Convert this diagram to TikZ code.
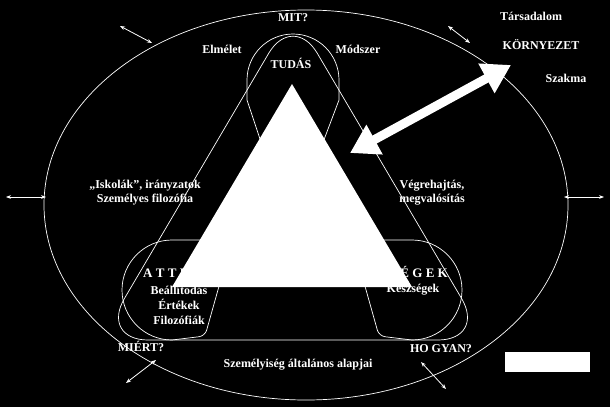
\documentclass[tikz,border=0pt]{standalone}
\usepackage{fontspec}
\setmainfont{Liberation Serif}
\usetikzlibrary{arrows.meta}
\tikzset{
  lbl/.style={text=white,font=\bfseries\fontsize{12}{14}\selectfont,align=center,inner sep=0pt},
  outline/.style={draw=white,line width=0.7pt},
  smallarrow/.style={white,line width=0.8pt,{Stealth[length=5pt]}-{Stealth[length=5pt]}}
}
\begin{document}
\begin{tikzpicture}[x=1pt,y=-1pt]
\fill[black] (0,0) rectangle (610,407);
\useasboundingbox (0,0) rectangle (610,407);
%outer ellipse
\draw[outline] (306,205) ellipse (262 and 195);
%big rounded triangle
\draw[outline,rounded corners=48pt] (293,12) -- (100,340) -- (486,340) -- cycle;
%corner capsules
\draw[outline] (247,100) -- (247,80) arc (180:360:46) -- (339,100) -- (322,145) -- (262,145) -- cycle;
\draw[outline,rounded corners=6pt] (232,240) -- (205,336) -- (172,340);
\draw[outline] (232,240) -- (172,240) arc (270:90:50);
\draw[outline,rounded corners=6pt] (352,240) -- (379,336) -- (412,340);
\draw[outline] (352,240) -- (412,240) arc (-90:90:50);
%texts
\node[lbl] (mit) at (293,18) {MIT?};
\node[lbl] (tars) at (531,16) {Társadalom};
\node[lbl] (korny) at (541,45) {KÖRNYEZET};
\node[lbl] (szak) at (566,78) {Szakma};
\node[lbl] (elm) at (222,49) {Elmélet};
\node[lbl] (mod) at (358,49) {Módszer};
\node[lbl] (tudas) at (291,63) {TUDÁS};
\node[lbl] (isk) at (145,193) {„Iskolák”, irányzatok\\Személyes  filozófia};
\node[lbl] (vegre) at (432,193) {Végrehajtás,\\megvalósítás};
\node[lbl,anchor=west] (att) at (143,272) {\fontsize{13}{14}\selectfont A T T I T Ű D Ö K};
\node[lbl,font=\bfseries\fontsize{12}{15}\selectfont] (beall) at (179,305) {Beállítodás\\Értékek\\Filozófiák};
\node[lbl,anchor=east] (kesz) at (448,272) {\fontsize{13}{14}\selectfont K É S Z S É G E K};
\node[lbl] (keszs) at (413,290) {Készségek};
\node[lbl] (miert) at (141,346) {MIÉRT?};
\node[lbl] (hogyan) at (441,349) {HO GYAN?};
\node[lbl] (szem) at (298,365) {Személyiség általános alapjai};
%white triangle
\fill[white] (292,84) -- (412,287) -- (172,287) -- cycle;
%arrows
\coordinate (bigA) at (350,153);
\coordinate (bigB) at (511,65);
\draw[white,line width=9pt,{Triangle[length=28pt,width=32pt]}-{Triangle[length=28pt,width=32pt]}] (bigA) -- (bigB);
\coordinate (a1) at (120,26); \coordinate (b1) at (152,43);
\coordinate (a2) at (6,197); \coordinate (b2) at (46,197);
\coordinate (a3) at (564,197); \coordinate (b3) at (604,197);
\coordinate (a4) at (126,383); \coordinate (b4) at (156,360);
\coordinate (a5) at (421,362); \coordinate (b5) at (446,389);
\coordinate (a6) at (448,26); \coordinate (b6) at (470,43);
\foreach \i in {1,...,6} \draw[smallarrow] (a\i) -- (b\i);
\fill[white] (505,352) rectangle (590,372);
\end{tikzpicture}
\end{document}
